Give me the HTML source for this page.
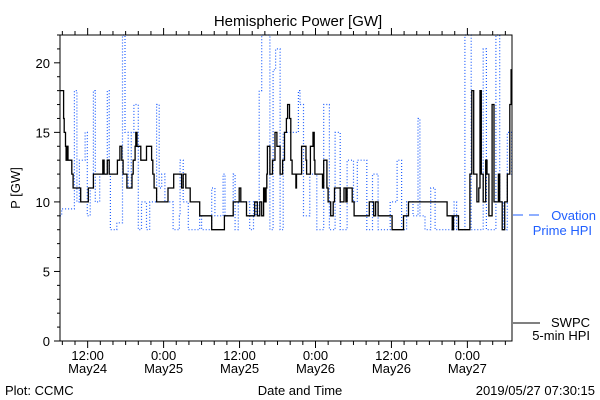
<!DOCTYPE html>
<html><head><meta charset="utf-8"><style>
body{margin:0;background:#fff}
svg{display:block;font-family:"Liberation Sans",sans-serif}
</style></head><body>
<svg id="chart" width="600" height="400" viewBox="0 0 600 400">
<rect x="0" y="0" width="600" height="400" fill="#fff"/>
<text x="298" y="26" font-size="15" text-anchor="middle">Hemispheric Power [GW]</text>
<text x="20" y="188" font-size="13" text-anchor="middle" transform="rotate(-90 20 188)">P [GW]</text>
<text x="300" y="395" font-size="13" text-anchor="middle">Date and Time</text>
<text x="5" y="395" font-size="13">Plot: CCMC</text>
<text x="595" y="395" font-size="13" text-anchor="end">2019/05/27 07:30:15</text>
<g id="plot"></g>
<g>
<line x1="513" y1="215" x2="540" y2="215" stroke="#1f5fff" stroke-width="1" stroke-dasharray="10,6"/>
<text x="596" y="220" font-size="13" fill="#1f5fff" text-anchor="end">Ovation</text>
<text x="592" y="235" font-size="13" fill="#1f5fff" text-anchor="end">Prime HPI</text>
<line x1="513" y1="323" x2="540" y2="323" stroke="#000" stroke-width="1"/>
<text x="590" y="327" font-size="13" text-anchor="end">SWPC</text>
<text x="590" y="340" font-size="13" text-anchor="end">5-min HPI</text>
</g>
</svg>
<script>
// Hours since 2019-05-24 00:00
const xDomain = [7.63, 79.05];
const yDomain = [0, 22];
const yTicks = [0, 5, 10, 15, 20];
const xTickHours = [12, 24, 36, 48, 60, 72];
const xTickLabels = [["12:00","May24"],["0:00","May25"],["12:00","May25"],["0:00","May26"],["12:00","May26"],["0:00","May27"]];

const swpcTimes = [7.63,8.2,8.3,8.5,8.6,8.8,8.9,9.5,9.7,10.9,12.1,12.9,14.4,14.6,15.1,15.4,16.7,17.1,17.4,17.6,18.2,19.0,19.2,19.5,19.6,19.8,20.4,21.3,22.1,22.3,22.5,22.9,24.7,25.6,
26.85,27.1,27.5,28.2,29.7,31.6,33.6,35.0,35.95,36.2,37.1,38.4,38.8,39.2,39.5,39.8,40.0,40.2,40.3,40.4,40.8,41.2,41.6,41.9,42.4,42.8,43.1,43.4,43.6,43.9,44.1,44.3,44.9,45.0,
45.8,46.5,46.6,47.2,47.6,47.8,47.9,49.1,49.3,49.8,50.0,50.4,50.8,51.0,51.9,52.5,52.8,53.0,53.8,54.1,56.5,57.2,57.5,57.9,60.1,61.9,62.7,
68.8,69.6,69.8,70.6,72.4,72.7,73.0,73.5,73.8,74.0,74.2,74.5,74.9,75.1,75.4,75.9,76.2,76.9,77.1,77.5,77.9,78.3,78.7,78.9];
const swpcValues = [18,16,15,14,13,14,13,12,11,10,11,12,13,12,13,12,13,14,13,12,11,12,13,14,15,14,13,14,13,12,11,10,11,12,
11,12,11,10,9,8,9,10,11,10,9,10,9,10,9,11,10,11,12,14,12,13,15,14,12,13,15,16,17,16,13,12,11,12,
14,13,12,14,15,13,12,11,13,11,10,9,10,11,10,11,10,11,10,9,10,9,10,9,8,9,10,
9,8,9,8,12,18,12,10,11,18,12,10,13,12,9,17,10,12,10,8,10,12,17,19.5];

const ovationTimes = [7.63,7.9,9.9,10.3,10.7,11.6,11.95,12.4,12.9,13.2,13.9,15.1,15.4,15.6,16.6,17.5,17.9,18.4,18.9,19.3,20.0,20.5,21.3,21.8,22.9,23.3,23.7,24.2,25.5,26.5,
26.6,27.1,27.9,29.7,30.0,31.6,32.1,33.4,33.7,35.0,35.3,35.8,37.6,38.2,38.6,39.1,39.5,40.8,41.3,41.7,42.4,42.9,45.3,
45.55,46.1,47.1,48.2,49.3,50.2,51.1,51.9,53.0,54.0,54.6,56.1,57.0,57.9,59.5,59.8,60.9,61.6,62.4,63.4,
64.2,64.5,65.3,66.2,66.9,69.9,70.3,71.6,71.9,72.6,74.5,75.0,76.5,76.8,77.1,77.7,78.3,79.0];
const ovationValues = [9,9.5,18,10,13,15,9,11,18,10,12,18,12,8,8.5,22,15,11,15,17,8,10,8,10,17,11,12,10,8,9,
13,10,8,9,8,11,9,12,9,12,8,10,8,10,9,18,22,8,19.5,21,8,15,18,
17,9,12,8,17,8,15,8,13,10,13,8,12,8,8,10,13,8,10,9,
16,9,8,11,8,10,8,22,22,8,21,8,22,22,10,8,15,12];

const L=60,R=512,T=35,B=341;
const xs = h => L + (h - xDomain[0]) / (xDomain[1] - xDomain[0]) * (R - L);
const ys = v => B - (v - yDomain[0]) / (yDomain[1] - yDomain[0]) * (B - T);
const NS='http://www.w3.org/2000/svg';
const plot=document.getElementById('plot');
function mk(tag, attrs){const e=document.createElementNS(NS,tag);for(const k in attrs)e.setAttribute(k,attrs[k]);plot.appendChild(e);return e;}

function stepPath(times, vals){
  let d='M'+xs(times[0]).toFixed(1)+','+ys(vals[0]).toFixed(1);
  for(let i=1;i<times.length;i++){
    d+=' H'+xs(times[i]).toFixed(1)+' V'+ys(vals[i]).toFixed(1);
  }
  d+=' H'+xs(xDomain[1]).toFixed(1);
  return d;
}
const ov=mk('path',{d:stepPath(ovationTimes,ovationValues),fill:'none',stroke:'#1f5fff','stroke-width':1.2,'stroke-dasharray':'1,2'});


const sw=mk('path',{d:stepPath(swpcTimes,swpcValues),fill:'none',stroke:'#000','stroke-width':1.3});



const frame=mk('rect',{x:L,y:T,width:R-L,height:B-T,fill:'none',stroke:'#000','stroke-width':1});



// y ticks
for(let v=yDomain[0]; v<=yDomain[1]; v++){
  const major = yTicks.indexOf(v)>=0;
  const t=mk('line',{x1:L-(major?6:3),x2:L,y1:ys(v),y2:ys(v),stroke:'#000'});
  
  
}
yTicks.forEach(v=>{
  const t=mk('text',{x:L-10,y:ys(v)+5,'font-size':13,'text-anchor':'end'});
  t.textContent=v;
  
  
});
// x ticks every 2 hours
for(let h=Math.ceil(xDomain[0]/2)*2; h<=xDomain[1]; h+=2){
  const major = xTickHours.indexOf(h)>=0;
  const x=xs(h);
  const t=mk('line',{x1:x,x2:x,y1:B,y2:B+(major?7:4),stroke:'#000'});
  
  
  const t2=mk('line',{x1:x,x2:x,y1:T,y2:T-(major?7:4),stroke:'#000'});
  
  
}
xTickHours.forEach((h,i)=>{
  const a=mk('text',{x:xs(h),y:360,'font-size':13,'text-anchor':'middle'});
  a.textContent=xTickLabels[i][0];
  
  
  const b=mk('text',{x:xs(h),y:373,'font-size':13,'text-anchor':'middle'});
  b.textContent=xTickLabels[i][1];
  
  
});
</script>
</body></html>
